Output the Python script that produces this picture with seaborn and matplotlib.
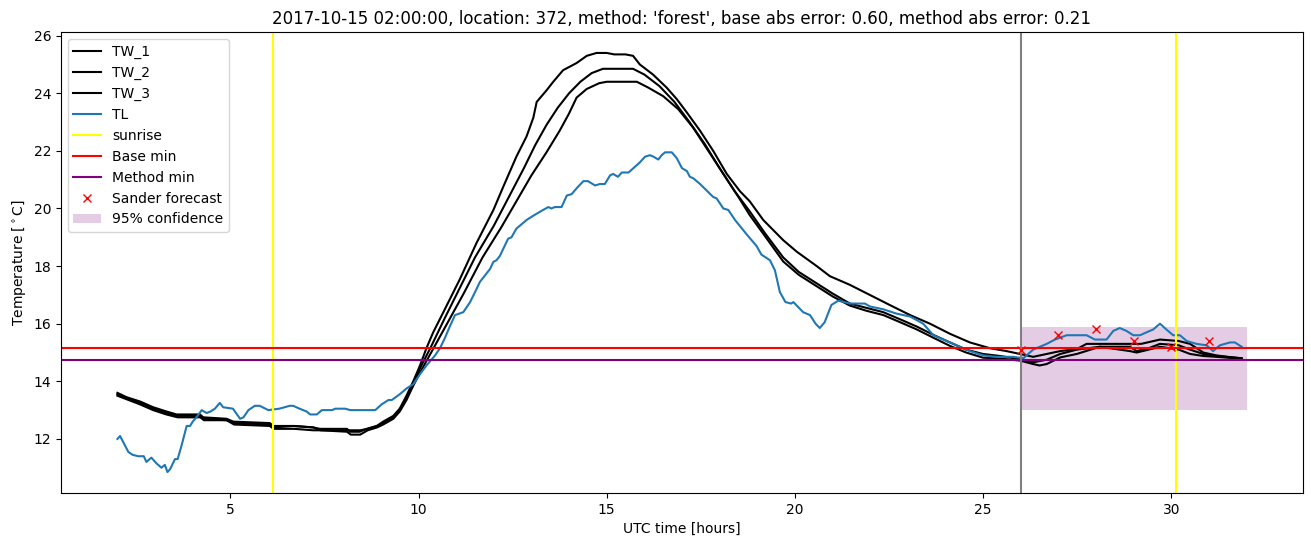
import matplotlib
matplotlib.use("Agg")
import matplotlib.pyplot as plt
import seaborn as sns
import numpy as np

# ---------------- data ----------------
TL_t = [2.0, 2.07, 2.29, 2.4, 2.55, 2.7, 2.77, 2.9, 3.04, 3.17, 3.26, 3.33, 3.4, 3.53, 3.6, 3.7, 3.84,
        3.93, 4.0, 4.1, 4.24, 4.37, 4.47, 4.59, 4.72, 4.81, 5.07, 5.26, 5.35, 5.48, 5.65, 5.78, 6.01,
        6.3, 6.58, 6.67, 6.84, 7.03, 7.12, 7.3, 7.43, 7.7, 7.79, 8.05, 8.19, 8.85, 9.02, 9.2, 9.29,
        9.5, 9.68, 9.86, 10.04, 10.21, 10.44, 10.57, 10.7, 10.83, 10.97, 11.19, 11.37, 11.54, 11.63,
        11.9, 11.99, 12.07, 12.16, 12.38, 12.47, 12.6, 12.69, 12.87, 13.05, 13.31, 13.45, 13.53,
        13.62, 13.8, 13.94, 14.07, 14.2, 14.38, 14.5, 14.69, 14.82, 14.95, 15.09, 15.17, 15.3, 15.4,
        15.58, 15.88, 16.02, 16.15, 16.24, 16.37, 16.46, 16.55, 16.73, 16.86, 17.0, 17.13, 17.21,
        17.3, 17.48, 17.83, 17.92, 18.1, 18.23, 18.41, 18.72, 18.98, 19.11, 19.34, 19.47, 19.6,
        19.75, 19.9, 19.96, 20.22, 20.4, 20.55, 20.66, 20.79, 20.97, 21.15, 21.46, 21.86, 21.99,
        22.35, 22.7, 23.06, 23.41, 23.68, 24.03, 24.3, 24.65, 25.0, 25.36, 25.8, 26.07, 26.33,
        26.69, 26.91, 27.22, 27.75, 27.97, 28.28, 28.46, 28.63, 28.81, 28.99, 29.17, 29.34, 29.52,
        29.7, 29.87, 30.05, 30.23, 30.41, 30.67, 30.94, 31.11, 31.29, 31.56, 31.69, 31.87]
TL_v = [12.0, 12.1, 11.55, 11.45, 11.4, 11.4, 11.2, 11.35, 11.15, 11.0, 11.1, 10.85, 10.95, 11.3, 11.3,
        11.75, 12.45, 12.45, 12.6, 12.75, 13.0, 12.9, 12.95, 13.05, 13.25, 13.1, 13.05, 12.7, 12.75,
        13.0, 13.15, 13.15, 13.0, 13.05, 13.15, 13.15, 13.05, 12.95, 12.85, 12.85, 13.0, 13.0, 13.05,
        13.05, 13.0, 13.0, 13.2, 13.35, 13.35, 13.55, 13.75, 13.9, 14.25, 14.55, 14.9, 15.15, 15.5,
        15.9, 16.3, 16.4, 16.75, 17.2, 17.45, 17.9, 18.15, 18.2, 18.35, 18.95, 19.0, 19.3, 19.4,
        19.6, 19.75, 19.95, 20.05, 20.0, 20.05, 20.05, 20.45, 20.5, 20.7, 20.95, 20.95, 20.8, 20.85,
        20.85, 21.15, 21.2, 21.1, 21.25, 21.25, 21.6, 21.8, 21.85, 21.8, 21.7, 21.85, 21.95, 21.95,
        21.75, 21.4, 21.3, 21.1, 21.05, 20.85, 20.4, 20.35, 20.0, 19.95, 19.6, 19.1, 18.7, 18.4,
        18.2, 17.85, 17.1, 16.75, 16.7, 16.75, 16.4, 16.3, 16.0, 15.85, 16.05, 16.65, 16.8, 16.7,
        16.7, 16.6, 16.5, 16.35, 16.25, 16.0, 15.6, 15.4, 15.25, 15.05, 14.9, 14.85, 14.85, 14.8,
        15.1, 15.3, 15.45, 15.6, 15.6, 15.45, 15.45, 15.75, 15.85, 15.75, 15.6, 15.6, 15.7, 15.8,
        16.0, 15.8, 15.6, 15.6, 15.4, 15.3, 15.25, 15.05, 15.25, 15.35, 15.35, 15.2]

TW1_t = [2.0, 2.24, 2.6, 2.95, 3.31, 3.57, 4.19, 4.28, 4.9, 5.08, 6.05, 6.14, 6.67, 7.2, 7.38, 8.1,
         8.18, 8.44, 8.62, 8.89, 9.06, 9.33, 9.5, 9.68, 9.86, 10.04, 10.21, 10.39, 10.66, 11.1,
         11.54, 11.99, 12.25, 12.6, 12.87, 13.05, 13.14, 13.4, 13.58, 13.84, 14.2, 14.47, 14.73,
         15.0, 15.2, 15.5, 15.7, 15.88, 16.23, 16.59, 16.86, 17.12, 17.48, 17.83, 18.19, 18.54,
         18.8, 19.16, 19.69, 20.05, 20.58, 20.93, 21.46, 21.99, 22.52, 23.06, 23.59, 24.12, 24.65,
         25.18, 25.62, 25.98, 26.33, 26.69, 27.05, 27.49, 27.75, 28.1, 28.9, 29.2, 29.7, 30.2,
         30.5, 30.85, 31.2, 31.5, 31.87]
TW1_v = [13.6, 13.45, 13.3, 13.1, 12.95, 12.85, 12.85, 12.75, 12.7, 12.6, 12.55, 12.45, 12.45, 12.4,
         12.35, 12.35, 12.25, 12.25, 12.35, 12.45, 12.6, 12.8, 13.05, 13.5, 14.0, 14.55, 15.15,
         15.7, 16.4, 17.55, 18.8, 19.95, 20.75, 21.8, 22.5, 23.15, 23.7, 24.1, 24.4, 24.8, 25.05,
         25.3, 25.4, 25.4, 25.35, 25.35, 25.3, 25.0, 24.65, 24.2, 23.8, 23.35, 22.7, 22.0, 21.2,
         20.6, 20.25, 19.6, 18.9, 18.5, 18.0, 17.65, 17.35, 17.0, 16.65, 16.3, 16.0, 15.65, 15.35,
         15.15, 15.05, 14.95, 14.85, 14.95, 15.05, 15.12, 15.3, 15.3, 15.3, 15.3, 15.45, 15.4,
         15.3, 15.0, 14.9, 14.85, 14.8]

TW2_t = [2.0, 2.3, 2.6, 2.95, 3.3, 3.6, 4.2, 4.3, 4.9, 5.1, 6.05, 6.15, 6.7, 7.2, 7.4, 8.1, 8.45,
         8.65, 8.9, 9.06, 9.33, 9.5, 9.68, 9.86, 10.04, 10.35, 10.7, 11.1, 11.5, 12.0, 12.4, 12.8,
         13.1, 13.4, 13.7, 14.0, 14.3, 14.6, 14.9, 15.7, 16.0, 16.4, 16.8, 17.2, 17.6, 18.0, 18.4,
         18.8, 19.2, 19.69, 20.1, 20.58, 21.0, 21.46, 21.9, 22.35, 22.8, 23.24, 23.7, 24.12, 24.55,
         25.0, 25.45, 25.98, 26.33, 26.69, 27.05, 27.49, 28.1, 28.9, 29.08, 29.4, 29.7, 30.2,
         30.5, 30.85, 31.2, 31.87]
TW2_v = [13.55, 13.4, 13.25, 13.05, 12.9, 12.8, 12.8, 12.7, 12.65, 12.55, 12.5, 12.4, 12.45, 12.4,
         12.3, 12.3, 12.3, 12.35, 12.45, 12.55, 12.75, 13.0, 13.4, 13.9, 14.45, 15.25, 16.2, 17.25,
         18.3, 19.4, 20.4, 21.4, 22.2, 22.9, 23.5, 24.0, 24.4, 24.7, 24.85, 24.85, 24.65, 24.25,
         23.7, 23.0, 22.25, 21.4, 20.6, 19.9, 19.15, 18.3, 17.8, 17.4, 17.05, 16.7, 16.55, 16.4,
         16.15, 15.9, 15.6, 15.35, 15.1, 14.95, 14.88, 14.77, 14.66, 14.75, 14.95, 15.1, 15.2,
         15.2, 15.05, 15.15, 15.3, 15.25, 15.1, 14.95, 14.88, 14.8]

TW3_t = [2.0, 2.3, 2.6, 2.95, 3.3, 3.6, 4.2, 4.3, 4.9, 5.1, 6.05, 6.15, 6.7, 7.2, 7.4, 8.1, 8.2,
         8.45, 8.65, 8.9, 9.06, 9.33, 9.5, 9.68, 9.86, 10.04, 10.42, 10.8, 11.2, 11.7, 12.2, 12.6,
         13.0, 13.4, 13.75, 14.0, 14.2, 14.47, 14.8, 15.0, 15.8, 16.1, 16.5, 16.9, 17.3, 17.7,
         18.1, 18.5, 18.8, 19.2, 19.69, 20.1, 20.58, 21.0, 21.46, 21.9, 22.35, 22.8, 23.24, 23.7,
         24.12, 24.55, 25.0, 25.45, 25.98, 26.33, 26.5, 26.69, 27.05, 27.49, 28.1, 28.9, 29.08,
         29.4, 29.7, 30.2, 30.5, 30.85, 31.2, 31.87]
TW3_v = [13.5, 13.35, 13.2, 13.0, 12.85, 12.75, 12.75, 12.65, 12.65, 12.5, 12.45, 12.35, 12.35, 12.3,
         12.3, 12.25, 12.15, 12.15, 12.3, 12.4, 12.5, 12.7, 12.95, 13.35, 13.85, 14.3, 15.2, 16.1,
         17.05, 18.3, 19.35, 20.25, 21.15, 21.95, 22.7, 23.3, 23.85, 24.15, 24.35, 24.4, 24.4,
         24.2, 23.9, 23.45, 22.8, 22.0, 21.2, 20.4, 19.77, 19.05, 18.16, 17.7, 17.3, 16.95, 16.63,
         16.45, 16.3, 16.05, 15.8, 15.5, 15.23, 15.0, 14.82, 14.79, 14.72, 14.6, 14.55, 14.6,
         14.83, 14.95, 15.2, 15.05, 15.0, 15.1, 15.2, 15.1, 14.95, 14.88, 14.85, 14.78]

sunrise_times = [6.13, 30.13]
forecast_time = 26.0
base_min = 15.15
method_min = 14.75
sander_t = [26, 27, 28, 29, 30, 31]
sander_v = [15.1, 15.6, 15.8, 15.4, 15.2, 15.4]
conf_t = [26, 32]
conf_low = 13.0
conf_high = 15.9

title = ("2017-10-15 02:00:00, location: 372, method: 'forest', "
         "base abs error: 0.60, method abs error: 0.21")

# ---------------- plot ----------------
fig, ax = plt.subplots(figsize=(13.11, 5.47), dpi=100)
fig.subplots_adjust(left=0.0465, right=0.9939, top=0.9415, bottom=0.0987)

for tt, vv, lab in [(TW1_t, TW1_v, "TW_1"), (TW2_t, TW2_v, "TW_2"), (TW3_t, TW3_v, "TW_3")]:
    sns.lineplot(x=tt, y=vv, color="black", label=lab, ax=ax, estimator=None, sort=False)
sns.lineplot(x=TL_t, y=TL_v, color="#1f77b4", label="TL", ax=ax, estimator=None, sort=False)

for i, s in enumerate(sunrise_times):
    ax.axvline(s, color="yellow", label="sunrise" if i == 0 else None)
ax.axhline(base_min, color="red", label="Base min")
ax.axhline(method_min, color="purple", label="Method min")
ax.axvline(forecast_time, color="grey")
ax.plot(sander_t, sander_v, "x", color="red", label="Sander forecast")
ax.fill_between(conf_t, conf_low, conf_high, color="purple", alpha=0.2, linewidth=0,
                label="95% confidence")

ax.set_xlim(0.5, 33.5)
ax.set_title(title)
ax.set_xlabel("UTC time [hours]")
ax.set_ylabel(r"Temperature [$^\circ$C]")
ax.legend(loc="upper left")

fig.savefig("out.png", dpi=100)
